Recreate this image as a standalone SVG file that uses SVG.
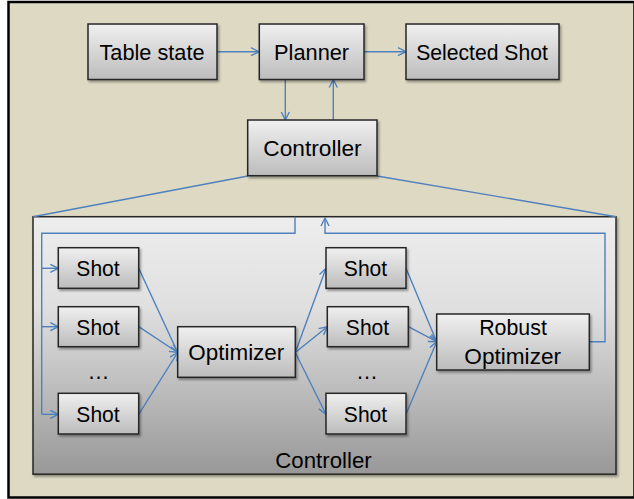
<svg xmlns="http://www.w3.org/2000/svg" width="634" height="499" viewBox="0 0 634 499">
<defs>
<linearGradient id="nodeGrad" x1="0" y1="0" x2="0" y2="1">
<stop offset="0" stop-color="#f0f0f0"/>
<stop offset="1" stop-color="#bcbcbc"/>
</linearGradient>
<linearGradient id="boxGrad" x1="0" y1="0" x2="0" y2="1">
<stop offset="0" stop-color="#ededed"/>
<stop offset="0.35" stop-color="#e0e0e0"/>
<stop offset="1" stop-color="#989898"/>
</linearGradient>
<filter id="shadow" x="-10%" y="-10%" width="130%" height="140%">
<feDropShadow dx="1.5" dy="2" stdDeviation="1.2" flood-color="#000" flood-opacity="0.35"/>
</filter>
<marker id="arr" viewBox="0 0 10 10" refX="9" refY="5" markerWidth="10" markerHeight="10" markerUnits="userSpaceOnUse" orient="auto">
<path d="M1,1 L9,5 L1,9" fill="none" stroke="#4f81bd" stroke-width="1.4"/>
</marker>
</defs>
<style>
.node rect { fill: url(#nodeGrad); stroke: #262626; stroke-width: 1.5; filter: url(#shadow); }
text { font-family: "Liberation Sans", Arial, sans-serif; font-size: 22px; fill: #000; text-anchor: middle; }
.conn { fill: none; stroke: #4f81bd; stroke-width: 1.4; }
.arrow { marker-end: url(#arr); }
</style>
<rect x="8.5" y="2" width="626" height="495.5" fill="#ddd9c3" stroke="#000" stroke-width="2.5"/>

<g id="controller-box">
<rect x="33" y="216.7" width="583" height="257.5" fill="url(#boxGrad)" stroke="#262626" stroke-width="1.5" filter="url(#shadow)"/>
<text x="323.5" y="468" textLength="96.4" lengthAdjust="spacingAndGlyphs">Controller</text>
</g>

<g id="connectors">
<line class="conn arrow" x1="217" y1="51.7" x2="259" y2="51.7"/>
<line class="conn arrow" x1="364" y1="51.7" x2="406" y2="51.7"/>
<line class="conn arrow" x1="285.3" y1="79.5" x2="285.3" y2="120"/>
<line class="conn arrow" x1="333.3" y1="120" x2="333.3" y2="79.5"/>
<line class="conn" x1="248" y1="176" x2="33" y2="216.7"/>
<line class="conn" x1="377" y1="176" x2="616" y2="216.7"/>
<polyline class="conn" points="295,216.7 295,233.3 41.7,233.3 41.7,414.3"/>
<line class="conn arrow" x1="41.7" y1="268.3" x2="58.3" y2="268.3"/>
<line class="conn arrow" x1="41.7" y1="326.7" x2="58.3" y2="326.7"/>
<line class="conn arrow" x1="41.7" y1="414.3" x2="58.3" y2="414.3"/>
<line class="conn arrow" x1="138.7" y1="268.3" x2="177.7" y2="352.5"/>
<line class="conn arrow" x1="138.7" y1="326.7" x2="177.7" y2="352.5"/>
<line class="conn arrow" x1="138.7" y1="414.3" x2="177.7" y2="352.5"/>
<line class="conn arrow" x1="295.3" y1="352.5" x2="326" y2="268.3"/>
<line class="conn arrow" x1="295.3" y1="352.5" x2="327.3" y2="326.7"/>
<line class="conn arrow" x1="295.3" y1="352.5" x2="326" y2="414.3"/>
<line class="conn arrow" x1="406" y1="268.3" x2="436.7" y2="341.7"/>
<line class="conn arrow" x1="408.3" y1="326.7" x2="436.7" y2="341.7"/>
<line class="conn arrow" x1="406" y1="414.3" x2="436.7" y2="341.7"/>
<polyline class="conn arrow" points="589.3,341.7 605,341.7 605,233.3 325,233.3 325,218"/>
</g>

<g id="table-state" class="node">
<rect x="88" y="24" width="129" height="55.5"/>
<text x="152" y="60" textLength="105" lengthAdjust="spacingAndGlyphs">Table state</text>
</g>
<g id="planner" class="node">
<rect x="259.3" y="24" width="104.7" height="55.5"/>
<text x="311.6" y="60" textLength="75" lengthAdjust="spacingAndGlyphs">Planner</text>
</g>
<g id="selected-shot" class="node">
<rect x="406" y="24" width="153" height="55.5"/>
<text x="482" y="60" textLength="131.7" lengthAdjust="spacingAndGlyphs">Selected Shot</text>
</g>
<g id="controller" class="node">
<rect x="247.7" y="120" width="129.3" height="55.7"/>
<text x="312.5" y="156" textLength="98.3" lengthAdjust="spacingAndGlyphs">Controller</text>
</g>

<g id="shot-1" class="node">
<rect x="58.3" y="247.7" width="80.4" height="40.6"/>
<text x="98" y="276" textLength="43.3" lengthAdjust="spacingAndGlyphs">Shot</text>
</g>
<g id="shot-2" class="node">
<rect x="58.3" y="306.7" width="80.4" height="40"/>
<text x="98" y="334.5" textLength="43.3" lengthAdjust="spacingAndGlyphs">Shot</text>
</g>
<text id="dots-left" x="98.5" y="379">…</text>
<g id="shot-3" class="node">
<rect x="58.3" y="393.3" width="80.4" height="40.7"/>
<text x="98" y="421.5" textLength="43.3" lengthAdjust="spacingAndGlyphs">Shot</text>
</g>

<g id="optimizer" class="node">
<rect x="177.7" y="326.7" width="117.6" height="50.6"/>
<text x="236.3" y="360" textLength="96" lengthAdjust="spacingAndGlyphs">Optimizer</text>
</g>

<g id="shot-4" class="node">
<rect x="326" y="247.7" width="80" height="40.6"/>
<text x="365.5" y="276" textLength="43.3" lengthAdjust="spacingAndGlyphs">Shot</text>
</g>
<g id="shot-5" class="node">
<rect x="327.3" y="306.7" width="81" height="40"/>
<text x="367.5" y="334.5" textLength="43.3" lengthAdjust="spacingAndGlyphs">Shot</text>
</g>
<text id="dots-right" x="367" y="379">…</text>
<g id="shot-6" class="node">
<rect x="326" y="393.3" width="80" height="40.7"/>
<text x="365.5" y="421.5" textLength="43.3" lengthAdjust="spacingAndGlyphs">Shot</text>
</g>

<g id="robust-optimizer" class="node">
<rect x="436.7" y="314" width="152.6" height="56"/>
<text x="513" y="335" textLength="67.7" lengthAdjust="spacingAndGlyphs">Robust</text>
<text x="512.7" y="364" textLength="96.7" lengthAdjust="spacingAndGlyphs">Optimizer</text>
</g>
</svg>
